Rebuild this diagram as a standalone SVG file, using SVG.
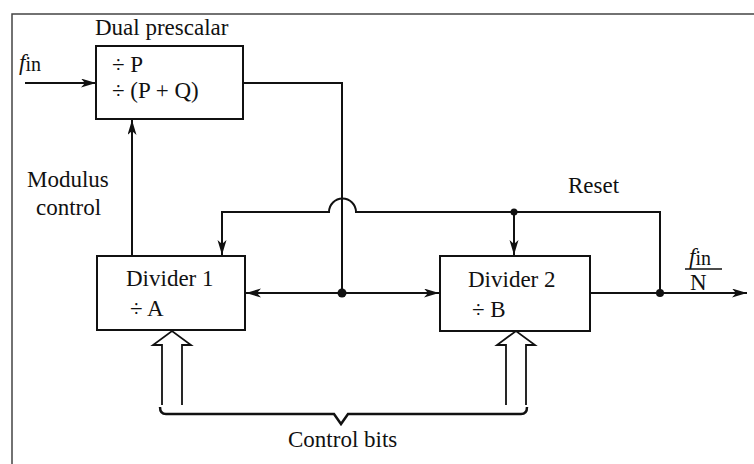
<svg xmlns="http://www.w3.org/2000/svg" width="754" height="464" viewBox="0 0 754 464">
<style>
.t{font-family:"Liberation Serif","Times New Roman",serif;font-size:23px;fill:#111}
.box{fill:#fff;stroke:#111;stroke-width:2}
.ln{fill:none;stroke:#111;stroke-width:2}
.hol{fill:#fff;stroke:#111;stroke-width:1.8}
.dot{fill:#111}
</style>
<defs>
<marker id="ah" markerUnits="userSpaceOnUse" markerWidth="16" markerHeight="10" refX="15" refY="4.5" orient="auto">
<path d="M0,0 L15,4.5 L0,9 L4,4.5 z" fill="#111"/>
</marker>
</defs>
<rect width="754" height="464" fill="#fff"/>
<path d="M12,464 V14 H754" fill="none" stroke="#444" stroke-width="1.5"/>

<g id="connectors">
<path class="ln" d="M25,83 H96" marker-end="url(#ah)"/>
<path class="ln" d="M132,256 V120" marker-end="url(#ah)"/>
<path class="ln" d="M243,83 H342 V293"/>
<path class="ln" d="M342,293 H246" marker-end="url(#ah)"/>
<path class="ln" d="M342,293 H439" marker-end="url(#ah)"/>
<path class="ln" d="M590,293 H747" marker-end="url(#ah)"/>
<path class="ln" d="M660,293 V212 H356 A13.5,13.5 0 0 0 329,212 H222 V255" marker-end="url(#ah)"/>
<path class="ln" d="M514,212 V255" marker-end="url(#ah)"/>
<circle class="dot" cx="342" cy="293" r="4.5"/>
<circle class="dot" cx="514" cy="212" r="3.5"/>
<circle class="dot" cx="660" cy="293" r="4"/>
<path class="hol" d="M162,405 V345 H153 L172,331 L191,345 H182 V405"/>
<path class="hol" d="M506,405 V345 H497 L516,331 L535,345 H526 V405"/>
<path fill="none" stroke="#111" stroke-width="2.5" d="M160,407 Q160,414 166,414 H334 L341,424 L348,414 H521 Q527,414 527,407"/>
</g>

<g id="prescaler">
<rect class="box" x="96" y="46" width="147" height="73"/>
<text class="t" x="95" y="35">Dual prescalar</text>
<text class="t" x="112" y="72">÷ P</text>
<text class="t" x="112" y="98">÷ (P + Q)</text>
</g>

<g id="fin-label">
<text class="t" x="19" y="70"><tspan font-style="italic">f</tspan><tspan font-size="20" dy="1">in</tspan></text>
</g>

<g id="modulus-label">
<text class="t" x="27" y="187">Modulus</text>
<text class="t" x="36" y="215">control</text>
</g>

<g id="divider1">
<rect class="box" x="97" y="256" width="148" height="74"/>
<text class="t" x="126" y="286">Divider 1</text>
<text class="t" x="130" y="316">÷ A</text>
</g>

<g id="divider2">
<rect class="box" x="440" y="256" width="150" height="75"/>
<text class="t" x="468" y="287">Divider 2</text>
<text class="t" x="472" y="317">÷ B</text>
</g>

<g id="reset-label">
<text class="t" x="568" y="193">Reset</text>
</g>

<g id="output-label">
<text class="t" x="689" y="264"><tspan font-style="italic">f</tspan><tspan font-size="20" dy="1">in</tspan></text>
<line x1="685" y1="269" x2="722" y2="269" stroke="#111" stroke-width="1.5"/>
<text class="t" x="690" y="290">N</text>
</g>

<g id="control-bits-label">
<text class="t" x="288" y="447">Control bits</text>
</g>
</svg>
